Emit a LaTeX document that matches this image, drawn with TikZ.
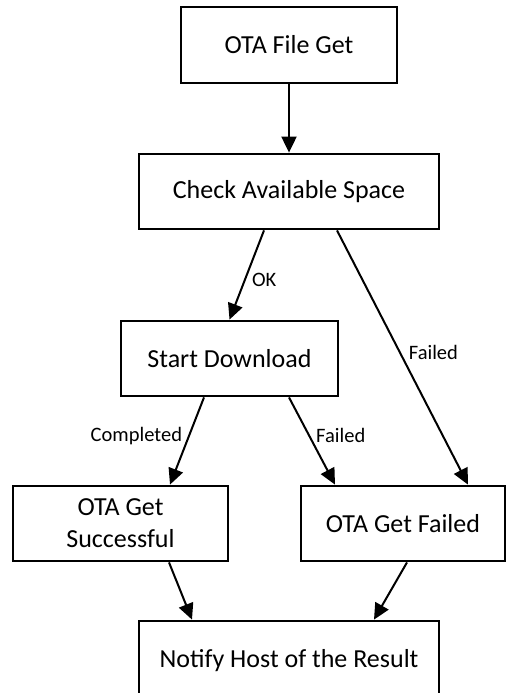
\documentclass[tikz,border=0pt]{standalone}
\usepackage{fontspec}
\setmainfont{Carlito}
\usetikzlibrary{arrows.meta, positioning}

\begin{document}
\begin{tikzpicture}[x=1pt, y=-1pt,
    state/.style={draw=black, line width=2.8pt, minimum height=75pt, align=center,
        font=\fontsize{26}{32}\selectfont},
    flow/.style={-{Triangle[length=16pt, width=15pt]}, line width=2pt},
    lbl/.style={inner sep=6pt, font=\fontsize{20.5}{24}\selectfont}]
    \useasboundingbox (0,0) rectangle (507,693);
    \node[state, minimum width=216pt, minimum height=76pt] (fileget) at (289,45) {OTA File Get};
    \node[state, minimum width=300pt] (check) at (289,191.5) {Check Available Space};
    \node[state, minimum width=217pt] (download) at (229.5,358.5) {Start Download};
    \node[state, minimum width=215pt] (success) at (120.5,523.5) {OTA Get\\Successful};
    \node[state, minimum width=204pt] (failed) at (403,523.5) {OTA Get Failed};
    \node[state, minimum width=300pt, minimum height=80pt] (notify) at (289,661) {Notify Host of the Result};

    \draw[flow] (fileget) -- (check);
    \draw[flow] ([xshift=-25pt]check.south) -- node[lbl, pos=0.55, anchor=west] {OK} (download.north);
    \draw[flow] ([xshift=48pt]check.south) -- node[lbl, pos=0.48, anchor=west, xshift=2pt] {Failed} ([xshift=65pt]failed.north);
    \draw[flow] ([xshift=-25.5pt]download.south) -- node[lbl, pos=0.44, anchor=east] {Completed} ([xshift=49.5pt]success.north);
    \draw[flow] ([xshift=59.5pt]download.south) -- node[lbl, pos=0.44, anchor=west] {Failed} ([xshift=-68pt]failed.north);
    \draw[flow] ([xshift=48.5pt]success.south) -- ([xshift=-97pt]notify.north);
    \draw[flow] ([xshift=4pt]failed.south) -- ([xshift=85pt]notify.north);
\end{tikzpicture}
\end{document}
